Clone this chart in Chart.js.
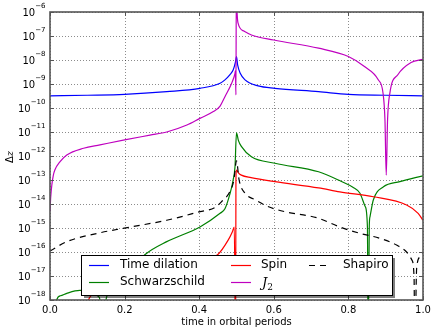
<!DOCTYPE html>
<html>
<head>
<meta charset="utf-8">
<script src="https://cdn.jsdelivr.net/npm/chart.js"></script>
<style>
  html, body { margin: 0; padding: 0; background: #fff; }
  #wrap { width: 436px; height: 334px; position: relative; }
</style>
</head>
<body>
<div id="wrap"><canvas id="myChart"></canvas></div>
<script>
// values (x = time in orbital periods, y = delta z)
const timeDilationX = [0, 0.1, 0.2, 0.313, 0.402, 0.456, 0.469, 0.482, 0.491, 0.497, 0.5, 0.503, 0.51, 0.523, 0.558, 0.603, 0.72, 0.8, 0.9, 1.0]
const timeDilationY = [3.2e-10, 3.4e-10, 3.7e-10, 4.8e-10, 6.6e-10, 1.07e-9, 1.48e-9, 2.4e-9, 3.8e-9, 7.9e-9, 1.38e-8, 6.3e-9, 2.8e-9, 1.48e-9, 8.3e-10, 6.6e-10, 4.8e-10, 3.7e-10, 3.4e-10, 3.2e-10]

const schwarzschildX = [0.012, 0.018, 0.028, 0.045, 0.08, 0.11, 0.13, 0.134, 0.142, 0.15, 0.16, 0.2, 0.255, 0.313, 0.402, 0.456, 0.469, 0.482, 0.491, 0.496, 0.5, 0.505, 0.513, 0.54, 0.603, 0.72, 0.78, 0.812, 0.831, 0.845, 0.851, 0.853, 0.856, 0.858, 0.867, 0.894, 0.938, 1.0]
const schwarzschildY = [1e-20, 1e-18, 1.5e-18, 1.9e-18, 2.5e-18, 2.2e-18, 1.4e-18, 1e-18, 1e-20, 1e-18, 2e-18, 1e-17, 7.9e-17, 2.7e-16, 1.1e-15, 4.1e-15, 6.3e-15, 2.5e-14, 1e-13, 3.6e-13, 9.3e-12, 4.5e-12, 2.5e-12, 9.3e-13, 5e-13, 2.2e-13, 8.9e-14, 5e-14, 2.8e-14, 7.9e-15, 1.1e-15, 1e-20, 1.26e-15, 3e-15, 1.5e-14, 5.2e-14, 8.5e-14, 1.5e-13]

const spinX = [0.095, 0.103, 0.125, 0.2, 0.3, 0.4, 0.45, 0.478, 0.489, 0.494, 0.4975, 0.4985, 0.5, 0.505, 0.513, 0.539, 0.603, 0.72, 0.777, 0.867, 0.956, 0.987, 1.0]
const spinY = [1e-19, 1e-18, 2e-18, 6.3e-18, 1.6e-17, 4e-17, 7.9e-17, 3.2e-16, 7e-16, 1.1e-15, 1e-20, 1e-13, 2.6e-13, 2e-13, 1.6e-13, 1.26e-13, 8.5e-14, 4.7e-14, 3.2e-14, 2e-14, 9.1e-15, 4.1e-15, 2.1e-15]

const j2X = [0, 0.002, 0.005, 0.009, 0.013, 0.027, 0.045, 0.09, 0.134, 0.2, 0.268, 0.313, 0.367, 0.402, 0.438, 0.456, 0.469, 0.487, 0.496, 0.497, 0.4985, 0.4995, 0.5015, 0.504, 0.52, 0.54, 0.6, 0.72, 0.8, 0.844, 0.88, 0.893, 0.898, 0.9015, 0.905, 0.911, 0.933, 0.968, 1.0]
const j2Y = [5e-15, 2e-14, 6.3e-14, 1.6e-13, 2.6e-13, 5.8e-13, 1.1e-12, 2.1e-12, 2.9e-12, 4.7e-12, 7.4e-12, 1e-11, 1.95e-11, 3.7e-11, 7.1e-11, 1.2e-10, 2.95e-10, 1.07e-9, 2.8e-9, 3.5e-9, 3.5e-10, 1e-5, 1e-6, 3.5e-7, 1.6e-7, 1.1e-7, 6.8e-8, 3.1e-8, 1.4e-8, 5.2e-9, 1.5e-9, 4e-10, 3.2e-11, 1.6e-13, 3.2e-11, 4e-10, 2.5e-9, 7.9e-9, 1.07e-8]

const shapiroX = [0, 0.045, 0.134, 0.223, 0.313, 0.402, 0.442, 0.46, 0.482, 0.493, 0.5, 0.507, 0.523, 0.55, 0.584, 0.629, 0.718, 0.777, 0.831, 0.885, 0.929, 0.956, 0.97, 0.976, 0.978, 0.983, 0.992, 1.0]
const shapiroY = [1.1e-16, 2.7e-16, 6.3e-16, 1.15e-15, 2.1e-15, 4.8e-15, 7.1e-15, 1.26e-14, 3.2e-14, 1e-13, 6.3e-13, 1e-13, 2.8e-14, 1.5e-14, 7.9e-15, 4.8e-15, 2.6e-15, 1.1e-15, 6e-16, 3.7e-16, 1.95e-16, 1e-16, 4.7e-17, 9.3e-18, 1e-20, 2.1e-17, 6.3e-17, 1e-16]

const xTicks = [0, 0.2, 0.4, 0.6, 0.8, 1.0]
const xTickLabels = ['0.0', '0.2', '0.4', '0.6', '0.8', '1.0']
const yTickExps = [-18, -17, -16, -15, -14, -13, -12, -11, -10, -9, -8, -7, -6]

const toPoints = (xs, ys) => xs.map((x, i) => ({ x: x, y: ys[i] }))

const FONT = "'DejaVu Sans', sans-serif"
const FRAME = '#555'

const series = [
    { label: 'Time dilation', x: timeDilationX, y: timeDilationY, color: '#0000ff', dash: [], order: 4 },
    { label: 'Schwarzschild', x: schwarzschildX, y: schwarzschildY, color: '#008000', dash: [], order: 3 },
    { label: 'Spin', x: spinX, y: spinY, color: '#ff0000', dash: [], order: 2 },
    { label: 'J2', x: j2X, y: j2Y, color: '#bf00bf', dash: [], order: 1 },
    { label: 'Shapiro', x: shapiroX, y: shapiroY, color: '#000000', dash: [6, 5], order: 0 }
]

// grid, frame, inward ticks, y labels, y title and the boxed legend
const decorations = {
    id: 'decorations',
    beforeDatasetsDraw(chart) {
        const { ctx, chartArea: a, scales } = chart
        ctx.save()
        ctx.strokeStyle = 'rgba(0,0,0,0.45)'
        ctx.lineWidth = 1
        ctx.setLineDash([1, 2])
        xTicks.forEach(v => {
            const px = Math.round(scales.x.getPixelForValue(v)) + 0.5
            ctx.beginPath(); ctx.moveTo(px, a.top); ctx.lineTo(px, a.bottom); ctx.stroke()
        })
        yTickExps.forEach(e => {
            const py = Math.round(scales.y.getPixelForValue(Math.pow(10, e))) + 0.5
            ctx.beginPath(); ctx.moveTo(a.left, py); ctx.lineTo(a.right, py); ctx.stroke()
        })
        ctx.restore()
    },
    afterDraw(chart) {
        const { ctx, chartArea: a, scales } = chart
        ctx.save()
        // ticks pointing inwards on all four sides
        ctx.strokeStyle = FRAME
        ctx.lineWidth = 1
        xTicks.forEach(v => {
            const px = Math.round(scales.x.getPixelForValue(v)) + 0.5
            ctx.beginPath(); ctx.moveTo(px, a.bottom); ctx.lineTo(px, a.bottom - 4); ctx.stroke()
            ctx.beginPath(); ctx.moveTo(px, a.top); ctx.lineTo(px, a.top + 4); ctx.stroke()
        })
        yTickExps.forEach(e => {
            const py = Math.round(scales.y.getPixelForValue(Math.pow(10, e))) + 0.5
            ctx.beginPath(); ctx.moveTo(a.left, py); ctx.lineTo(a.left + 4, py); ctx.stroke()
            ctx.beginPath(); ctx.moveTo(a.right, py); ctx.lineTo(a.right - 4, py); ctx.stroke()
        })
        ctx.lineWidth = 1.6
        ctx.strokeRect(a.left, a.top, a.right - a.left, a.bottom - a.top)

        // y tick labels as 10 with a raised exponent
        ctx.fillStyle = '#000'
        ctx.textBaseline = 'middle'
        yTickExps.forEach(e => {
            const py = scales.y.getPixelForValue(Math.pow(10, e))
            const exp = '\u2212' + Math.abs(e)
            ctx.font = '7px ' + FONT
            const ew = ctx.measureText(exp).width
            ctx.textAlign = 'right'
            ctx.fillText(exp, 45.5, py - 6)
            ctx.font = '10px ' + FONT
            ctx.fillText('10', 45.5 - ew, py + 1)
        })

        // y axis title
        ctx.save()
        ctx.translate(10, 157)
        ctx.rotate(-Math.PI / 2)
        ctx.textAlign = 'left'
        ctx.font = '10px ' + FONT
        const dw = ctx.measureText('\u0394').width
        ctx.fillText('\u0394', -6, 0)
        ctx.font = "italic 10px 'DejaVu Serif', serif"
        ctx.fillText('z', -6 + dw, 0)
        ctx.restore()

        // legend box with a drop shadow
        const box = { x: 81, y: 255, w: 311, h: 40 }
        ctx.fillStyle = 'rgba(0,0,0,0.5)'
        ctx.fillRect(box.x + 3, box.y + 3, box.w, box.h)
        ctx.fillStyle = '#fff'
        ctx.fillRect(box.x, box.y, box.w, box.h)
        ctx.strokeStyle = '#000'
        ctx.lineWidth = 1
        ctx.strokeRect(box.x + 0.5, box.y + 0.5, box.w, box.h)

        const cols = [89, 231, 309]
        const textCols = [120, 261, 343]
        const rows = [265, 282]
        const slots = [[0, 0], [0, 1], [1, 0], [1, 1], [2, 0]]
        series.forEach((s, i) => {
            const [c, r] = slots[i]
            const y = rows[r] + 0.5
            ctx.strokeStyle = s.color
            ctx.lineWidth = 1.2
            ctx.setLineDash(s.dash)
            ctx.beginPath(); ctx.moveTo(cols[c], y); ctx.lineTo(cols[c] + 20, y); ctx.stroke()
            ctx.setLineDash([])
            ctx.fillStyle = '#000'
            ctx.textAlign = 'left'
            if (s.label === 'J2') {
                ctx.textBaseline = 'alphabetic'
                ctx.font = "italic 13px 'DejaVu Serif', serif"
                ctx.fillText('J', textCols[c] + 1, rows[r] + 5)
                const jw = ctx.measureText('J').width
                ctx.font = "9px 'DejaVu Serif', serif"
                ctx.fillText('2', textCols[c] + 1 + jw, rows[r] + 8)
                ctx.textBaseline = 'middle'
            } else {
                ctx.font = '12px ' + FONT
                ctx.fillText(s.label, textCols[c], rows[r])
            }
        })
        ctx.restore()
    }
}

let ctx = document.getElementById('myChart')

new Chart(ctx, {
    type: 'line',
    data: {
        datasets: series.map(s => ({
            label: s.label,
            data: toPoints(s.x, s.y),
            borderColor: s.color,
            backgroundColor: s.color,
            borderWidth: 1.2,
            borderDash: s.dash,
            pointRadius: 0,
            cubicInterpolationMode: 'monotone',
            fill: false,
            clip: 0,
            order: s.order
        }))
    },
    options: {
        responsive: true,
        maintainAspectRatio: false,
        animation: false,
        events: [],
        layout: {
            padding: { left: 0, right: 13, top: 12, bottom: 0 }
        },
        scales: {
            x: {
                type: 'linear',
                min: 0,
                max: 1,
                grid: { display: false, drawTicks: false },
                border: { display: false },
                afterBuildTicks: scale => {
                    scale.ticks = xTicks.map(v => ({ value: v }))
                },
                afterFit: scale => {
                    scale.height = 34
                    scale.paddingLeft = 0
                    scale.paddingRight = 0
                },
                ticks: {
                    maxRotation: 0,
                    autoSkip: false,
                    padding: 4,
                    color: '#000',
                    font: { family: FONT, size: 10 },
                    callback: (value, index) => xTickLabels[index]
                },
                title: {
                    display: true,
                    text: 'time in orbital periods',
                    color: '#000',
                    font: { family: FONT, size: 10 },
                    padding: { top: 0, bottom: 6 }
                }
            },
            y: {
                type: 'logarithmic',
                min: 1e-18,
                max: 1e-6,
                grid: { display: false, drawTicks: false },
                border: { display: false },
                ticks: { display: false },
                afterFit: scale => {
                    scale.width = 50
                    scale.paddingTop = 0
                    scale.paddingBottom = 0
                }
            }
        },
        plugins: {
            legend: { display: false },
            tooltip: { enabled: false }
        }
    },
    plugins: [decorations]
});
</script>
</body>
</html>
